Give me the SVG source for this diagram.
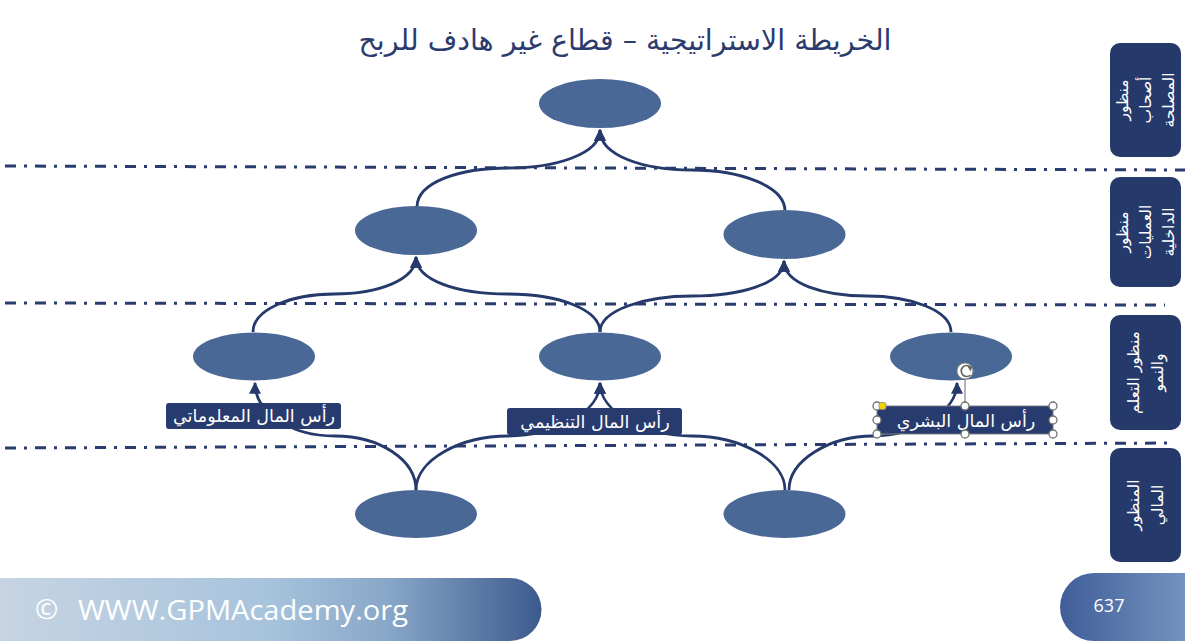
<svg xmlns="http://www.w3.org/2000/svg" width="1185" height="641" viewBox="0 0 1185 641">
<defs>
<linearGradient id="gFoot" x1="0" y1="0" x2="1" y2="0">
<stop offset="0" stop-color="#C6D4E3"/>
<stop offset="0.5" stop-color="#A7C3DC"/>
<stop offset="0.72" stop-color="#88A6C7"/>
<stop offset="1" stop-color="#3D5A8E"/>
</linearGradient>
<linearGradient id="gPage" x1="0" y1="0" x2="1" y2="0">
<stop offset="0" stop-color="#405D98"/>
<stop offset="1" stop-color="#7493BF"/>
</linearGradient>
<marker id="arr" viewBox="0 0 10 10" refX="9" refY="5" markerWidth="12" markerHeight="12" markerUnits="userSpaceOnUse" orient="auto">
<path d="M0,0 L10,5 L0,10 z" fill="#25396B"/>
</marker>
</defs>
<style>
.sep{fill:none;stroke:#2A3C6F;stroke-width:3;stroke-dasharray:11 8 3 8}
.node{fill:#4A6896}
.con{fill:none;stroke:#25396B;stroke-width:2.8;marker-end:url(#arr)}
.lbl{fill:#283B6E}
.lt{fill:#fff;font-family:"DejaVu Sans",sans-serif;font-size:17.5px;text-anchor:middle}
.side{fill:#26396B}
.st{fill:#fff;font-family:"DejaVu Sans",sans-serif;font-size:15.5px;text-anchor:middle}
.h{fill:#fff;stroke:#707070;stroke-width:1.3}
</style>
<rect width="1185" height="641" fill="#fff"/>
<text x="625" y="50" fill="#2B3B6E" font-family="DejaVu Sans, sans-serif" font-size="28.5" text-anchor="middle">الخريطة الاستراتيجية – قطاع غير هادف للربح</text>
<g id="separators">
<path class="sep" d="M5,166 L1185,170"/>
<path class="sep" d="M5,303 L1165,305"/>
<path class="sep" d="M5,448 L1175,443"/>
</g>
<g id="connectors">
<path class="con" d="M417,207 C417,182 460,168 508,168 C556,168 600,154 600,130"/>
<path class="con" d="M785,211 C785,186 740,170 692,170 C644,170 600,156 600,130"/>
<path class="con" d="M253,332 C253,310 290,294 334,294 C378,294 416,280 416,257"/>
<path class="con" d="M600,332 C600,310 560,294 508,294 C456,294 416,280 416,257"/>
<path class="con" d="M600,332 C600,310 645,296 692,296 C739,296 784,284 784,261"/>
<path class="con" d="M951,332 C951,310 910,296 867,296 C824,296 784,284 784,261"/>
<path class="con" d="M416,490 C416,460 380,436 335,436 C290,436 255,412 255,383"/>
<path class="con" d="M416,490 C416,460 460,436 508,436 C556,436 600,412 600,383"/>
<path class="con" d="M785,490 C785,460 740,436 692,436 C644,436 600,412 600,383"/>
<path class="con" d="M789,490 C789,460 830,436 873,436 C916,436 957,412 957,383"/>
</g>
<g id="n-top"><ellipse class="node" cx="600" cy="103.5" rx="61" ry="24.5"/></g>
<g id="n-proc-left"><ellipse class="node" cx="416" cy="230.5" rx="61" ry="24.5"/></g>
<g id="n-proc-right"><ellipse class="node" cx="784.5" cy="234.5" rx="61" ry="24.5"/></g>
<g id="n-learn-left"><ellipse class="node" cx="254" cy="356.5" rx="61" ry="24"/></g>
<g id="n-learn-mid"><ellipse class="node" cx="600" cy="356.5" rx="61" ry="24"/></g>
<g id="n-learn-right"><ellipse class="node" cx="951" cy="356.5" rx="61" ry="24"/></g>
<g id="n-fin-left"><ellipse class="node" cx="416" cy="514" rx="61" ry="24"/></g>
<g id="n-fin-right"><ellipse class="node" cx="784.5" cy="514" rx="61" ry="24"/></g>
<g id="label-info">
<rect class="lbl" x="166" y="403" width="175" height="26" rx="3"/>
<text class="lt" x="254" y="422">رأس المال المعلوماتي</text>
</g>
<g id="label-org">
<rect class="lbl" x="507" y="408" width="175" height="27" rx="3"/>
<text class="lt" x="595" y="427.5">رأس المال التنظيمي</text>
</g>
<g id="label-human">
<rect class="lbl" x="877" y="406" width="176" height="28" rx="2"/>
<text class="lt" x="966" y="426.5">رأس المال البشري</text>
<rect x="877" y="406" width="176" height="28" fill="none" stroke="#808080" stroke-width="1"/>
<line x1="965" y1="378" x2="965" y2="406" stroke="#808080" stroke-width="1.2"/>
<circle class="h" cx="877" cy="406" r="4"/>
<circle class="h" cx="965" cy="406" r="4"/>
<circle class="h" cx="1053" cy="406" r="4"/>
<circle class="h" cx="877" cy="420" r="4"/>
<circle class="h" cx="1053" cy="420" r="4"/>
<circle class="h" cx="877" cy="434" r="4"/>
<circle class="h" cx="965" cy="434" r="4"/>
<circle class="h" cx="1053" cy="434" r="4"/>
<rect x="879" y="402.5" width="7" height="7" rx="2" fill="#F2D000" stroke="#8A8A8A" stroke-width="0.8"/>
<circle cx="965" cy="371" r="8" fill="#fff" stroke="#8A8A8A" stroke-width="1"/>
<path d="M970.5,367 A5.5,5.5 0 1 0 970.5,375" fill="none" stroke="#666" stroke-width="1.7"/>
<path d="M967,365.5 L972.5,366.5 L970.5,371.5 z" fill="#666"/>
</g>
<g id="side-stakeholder">
<rect class="side" x="1110" y="43" width="71" height="114" rx="10"/>
<text class="st" transform="translate(1145.5,100) rotate(-90)"><tspan x="0" y="-18">منظور</tspan><tspan x="0" y="5">أصحاب</tspan><tspan x="0" y="28">المصلحة</tspan></text>
</g>
<g id="side-internal">
<rect class="side" x="1110" y="177" width="71" height="110" rx="10"/>
<text class="st" transform="translate(1145.5,232) rotate(-90)"><tspan x="0" y="-18">منظور</tspan><tspan x="0" y="5">العمليات</tspan><tspan x="0" y="28">الداخلية</tspan></text>
</g>
<g id="side-learning">
<rect class="side" x="1110" y="315" width="71" height="115" rx="10"/>
<text class="st" transform="translate(1145.5,372.5) rotate(-90)"><tspan x="0" y="-7">منظور التعلم</tspan><tspan x="0" y="17">والنمو</tspan></text>
</g>
<g id="side-financial">
<rect class="side" x="1110" y="448" width="71" height="114" rx="10"/>
<text class="st" transform="translate(1145.5,505) rotate(-90)"><tspan x="0" y="-7">المنظور</tspan><tspan x="0" y="17">المالي</tspan></text>
</g>
<g id="footer">
<path d="M0,578 H510 A31.5,31.5 0 0 1 510,641 H0 Z" fill="url(#gFoot)"/>
<text x="35" y="619" fill="#fff" font-family="Open Sans, sans-serif" font-size="28">©</text>
<text x="78" y="620" fill="#fff" font-family="Open Sans, sans-serif" font-size="27" textLength="330" lengthAdjust="spacingAndGlyphs">WWW.GPMAcademy.org</text>
<path d="M1094,573 H1185 V641 H1094 A34,34 0 0 1 1094,573 Z" fill="url(#gPage)"/>
<text x="1109" y="612" fill="#fff" font-family="Open Sans, sans-serif" font-size="18" text-anchor="middle">637</text>
</g>
</svg>
